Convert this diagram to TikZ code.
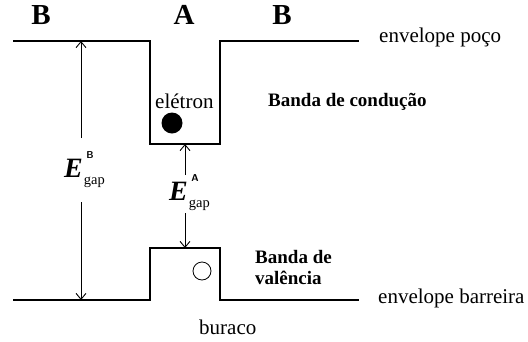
\documentclass[tikz,border=0pt]{standalone}
\usepackage{fontspec}
\setmainfont{Liberation Serif}
\usetikzlibrary{arrows.meta}
\newcommand\egaplabel[1]{{\fontsize{28}{28}\selectfont\bfseries\itshape E}\hspace{1pt}\rlap{\raisebox{19pt}{\hspace{2.5pt}\fontsize{10}{10}\selectfont\sffamily\bfseries #1}}\raisebox{-7pt}{\fontsize{14.5}{14.5}\selectfont gap}}
\begin{document}
\begin{tikzpicture}[x=1pt,y=-1pt,
  band/.style={line width=2.2pt,line join=miter},
  gaparrow/.style={line width=0.9pt,-{Straight Barb[length=6pt,width=10pt,line width=0.9pt]}},
  reg/.style={font=\fontsize{21}{24}\selectfont,inner sep=0pt},
  bld/.style={font=\fontsize{19}{21}\selectfont\bfseries,inner sep=0pt,align=left},
  big/.style={font=\fontsize{29}{30}\selectfont\bfseries,inner sep=0pt},
  elabel/.style={inner sep=0pt,anchor=base west}]
\useasboundingbox (0,0) rectangle (528,341);
% band profiles
\draw[band] (13,41) -- (150,41) -- (150,144) -- (220,144) -- (220,41) -- (359,41);
\draw[band] (13,300) -- (150,300) -- (150,248) -- (220,248) -- (220,300) -- (359,300);
% region labels
\node[big] (lB) at (41,15) {B};
\node[big] (lA) at (184,15) {A};
\node[big] (rB) at (282,15) {B};
% text labels
\node[reg,anchor=base west] (envp) at (379,42) {envelope poço};
\node[reg,anchor=base west] (envb) at (378,303) {envelope barreira};
\node[reg,anchor=base west] (bur) at (199,334) {buraco};
\node[reg,anchor=base west] (ele) at (155,108) {elétron};
\node[bld,anchor=base west] (bc) at (268,106) {Banda de condução};
\node[bld,anchor=north west] (bv) at (255,250) {Banda de\\valência};
% particles
\node[circle,fill=black,inner sep=0pt,minimum size=21pt] (elec) at (172,123) {};
\node[circle,draw=black,line width=0.8pt,inner sep=0pt,minimum size=18pt] (hole) at (202,271) {};
% gap labels
\node[elabel] (EB) at (64,177) {\egaplabel{B}};
\node[elabel] (EA) at (169,200) {\egaplabel{A}};
% arrows
\coordinate (bTop) at (81,41);
\coordinate (bUp) at (81,138);
\coordinate (bDown) at (81,202);
\coordinate (bBot) at (81,300);
\coordinate (aTop) at (185,144);
\coordinate (aUp) at (185,175);
\coordinate (aDown) at (185,213);
\coordinate (aBot) at (185,248);
\draw[gaparrow] (bUp) -- (bTop);
\draw[gaparrow] (bDown) -- (bBot);
\draw[gaparrow] (aUp) -- (aTop);
\draw[gaparrow] (aDown) -- (aBot);
\end{tikzpicture}
\end{document}
